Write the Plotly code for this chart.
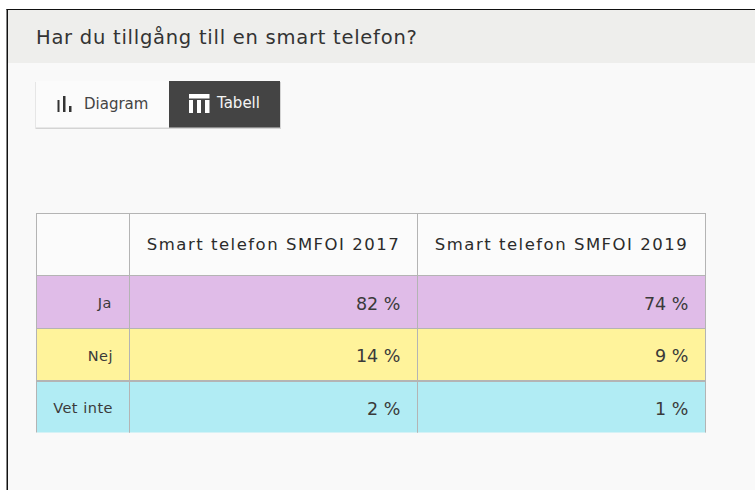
import plotly.graph_objects as go

TITLE = "Har du tillgång till en smart telefon?"
BUTTONS = ["Diagram", "Tabell"]
SERIES_NAMES = ["Smart telefon SMFOI 2017", "Smart telefon SMFOI 2019"]
CATEGORIES = ["Ja", "Nej", "Vet inte"]
VALUES_2017 = [82, 14, 2]
VALUES_2019 = [74, 9, 1]
ROW_COLORS = ["#e0bce8", "#fff39b", "#b1ecf4"]

W, H = 755, 490
FONT = "DejaVu Sans"
TEXT = "#3a3a3a"

def px(x): return x / W
def py(y): return 1 - y / H

def rect(x0, y0, x1, y1, fill):
    return dict(type="rect", xref="paper", yref="paper", x0=px(x0), x1=px(x1),
                y0=py(y1), y1=py(y0), fillcolor=fill, layer="below", line=dict(width=0))

NB = "\u00a0\u2009"

def cell(text, size, spacing=0):
    # an invisible first line pushes the text down to the middle of the cell
    return f"\u00a0<br><span style='font-size:{size}px;letter-spacing:{spacing}px'>{text}{NB}</span>"

def head(text, size):
    return f"\u00a0<br><span style='font-size:{size}px;letter-spacing:1.5px'>{text}</span>"

def spaced(text, spacing):
    return f"<span style='letter-spacing:{spacing}px'>{text}</span>"

fig = go.Figure(go.Table(
    domain=dict(x=[px(36.5), px(705.5)], y=[py(433.5), py(213.5)]),
    columnwidth=[93, 288, 288],
    header=dict(values=[""] + [head(s, 16.5) for s in SERIES_NAMES], height=62, align="center",
                fill_color="#fbfbfb", line=dict(color="#b4b4b4", width=1.3),
                font=dict(family=FONT, size=13, color="#2b2b2b")),
    cells=dict(values=[[cell(c, 14.5, 0.5) for c in CATEGORIES],
                       [cell(f"{v} %", 17.5) for v in VALUES_2017],
                       [cell(f"{v} %", 17.5) for v in VALUES_2019]],
               height=52.7, align="right",
               fill_color=[ROW_COLORS, ROW_COLORS, ROW_COLORS],
               line=dict(color="#b4b4b4", width=1.3),
               font=dict(family=FONT, size=[11.2, 11.6, 11.6], color=TEXT)),
))

shapes = [
    rect(0, 0, W, H, "#ffffff"),
    rect(8, 10, W, H, "#f9f9f9"),
    rect(8, 10, W, 63, "#eeeeec"),
    rect(6.5, 9, 8, H, "#111111"),
    rect(6.5, 9, W, 10, "#111111"),
    rect(35.5, 82, 281, 129, "#d4d4d4"),
    rect(36, 81, 169, 127.5, "#fbfbfb"),
    rect(169, 81, 280, 127.5, "#444444"),
    # chart icon
    rect(57.5, 100, 59.5, 112, "#333333"),
    rect(63, 96, 65.5, 112, "#333333"),
    rect(69, 106, 71.5, 112, "#333333"),
    # table icon
    rect(189, 94, 209.5, 98.5, "#ffffff"),
    rect(189, 100, 193, 113, "#ffffff"),
    rect(197, 100, 201, 113, "#ffffff"),
    rect(205, 100, 209.5, 113, "#ffffff"),
]

annotations = [
    dict(x=px(34), y=py(37.5), text=spaced(TITLE, 0.75), font=dict(family=FONT, size=19.5, color="#333333")),
    dict(x=px(82), y=py(104), text=BUTTONS[0], font=dict(family=FONT, size=15, color="#444444")),
    dict(x=px(214), y=py(103), text=BUTTONS[1], font=dict(family=FONT, size=15, color="#f5f5f5")),
]
for a in annotations:
    a.update(xref="paper", yref="paper", xanchor="left", yanchor="middle", showarrow=False)

fig.update_layout(width=W, height=H, margin=dict(l=0, r=0, t=0, b=0),
                  paper_bgcolor="#ffffff", shapes=shapes, annotations=annotations,
                  showlegend=False)
fig.write_html("out.html", config=dict(displayModeBar=False),
               post_script="document.body.style.margin='0';")
